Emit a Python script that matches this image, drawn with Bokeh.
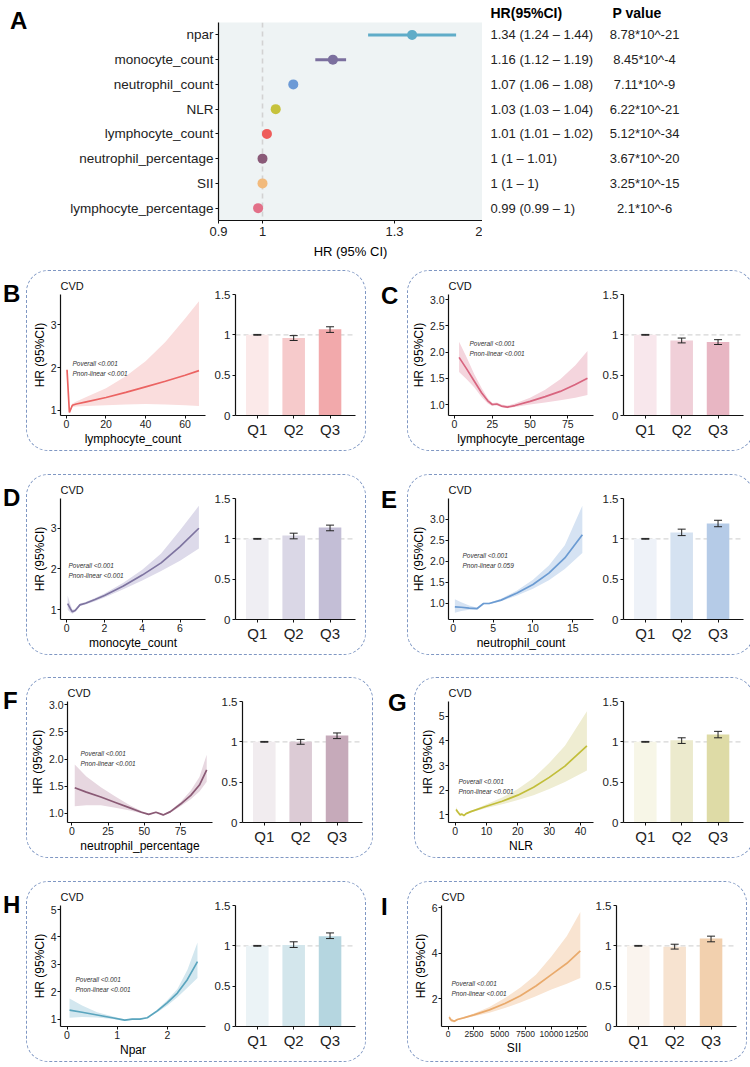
import numpy as np
from bokeh.plotting import figure
from bokeh.models import (Range1d, FactorRange, FixedTicker, Span, Whisker, TeeHead,
                          ColumnDataSource, Div, Spacer)
from bokeh.layouts import row, column
from bokeh.embed import file_html
from bokeh.resources import INLINE
from bokeh.core.properties import value

FONT = "Liberation Sans"
INK = "#222222"

# ---------------- forest plot data ----------------
markers = ["npar", "monocyte_count", "neutrophil_count", "NLR", "lymphocyte_count",
           "neutrophil_percentage", "SII", "lymphocyte_percentage"]
hr = [1.34, 1.16, 1.07, 1.03, 1.01, 1.0, 1.0, 0.99]
hr_low = [1.24, 1.12, 1.06, 1.03, 1.01, 1.0, 1.0, 0.99]
hr_high = [1.44, 1.19, 1.08, 1.04, 1.02, 1.01, 1.0, 1.0]
hr_text = ["1.34 (1.24 \u2013 1.44)", "1.16 (1.12 \u2013 1.19)", "1.07 (1.06 \u2013 1.08)",
           "1.03 (1.03 \u2013 1.04)", "1.01 (1.01 \u2013 1.02)", "1 (1 \u2013 1.01)",
           "1 (1 \u2013 1)", "0.99 (0.99 \u2013 1)"]
p_text = ["8.78*10^-21", "8.45*10^-4", "7.11*10^-9", "6.22*10^-21", "5.12*10^-34",
          "3.67*10^-20", "3.25*10^-15", "2.1*10^-6"]
marker_colors = ["#5FACC8", "#7B6F9E", "#6C9AD6", "#C6C23C", "#EE5C5A", "#8A5A78",
                 "#F2BA7C", "#E27088"]
forest_ticks = [0.9, 1.0, 1.3, 1.5]
forest_tick_labels = ["0.9", "1", "1.3", "2"]

# ---------------- restricted cubic spline curves ----------------
quartiles = ["Q1", "Q2", "Q3"]

panels = [
    dict(letter="B", xlabel="lymphocyte_count",
         x=[0.3, 1.5, 3, 5, 10, 20, 30, 40, 50, 60, 67],
         y=[1.95, 0.95, 1.12, 1.15, 1.20, 1.30, 1.42, 1.55, 1.68, 1.82, 1.93],
         lo=[1.90, 0.92, 1.08, 1.09, 1.10, 1.12, 1.14, 1.15, 1.14, 1.12, 1.10],
         hi=[2.00, 0.98, 1.16, 1.21, 1.31, 1.52, 1.80, 2.15, 2.60, 3.15, 3.55],
         bar=[1.00, 0.96, 1.07], bar_lo=[0.995, 0.93, 1.03], bar_hi=[1.005, 0.99, 1.10],
         pnl="<0.001"),
    dict(letter="C", xlabel="lymphocyte_percentage",
         x=[3, 8, 13, 18, 22, 25, 28, 31, 35, 40, 50, 60, 70, 80, 88],
         y=[1.90, 1.68, 1.45, 1.22, 1.07, 1.00, 1.01, 0.97, 0.95, 0.98, 1.06, 1.15, 1.25, 1.38, 1.50],
         lo=[1.62, 1.48, 1.33, 1.14, 1.02, 0.97, 0.98, 0.95, 0.93, 0.95, 1.00, 1.04, 1.08, 1.13, 1.18],
         hi=[2.20, 1.90, 1.58, 1.31, 1.12, 1.03, 1.04, 1.00, 0.98, 1.02, 1.13, 1.28, 1.48, 1.75, 2.02],
         bar=[1.00, 0.93, 0.91], bar_lo=[0.995, 0.90, 0.88], bar_hi=[1.005, 0.96, 0.94],
         pnl="<0.001"),
    dict(letter="D", xlabel="monocyte_count",
         x=[0.05, 0.2, 0.3, 0.45, 0.7, 1, 1.5, 2, 3, 4, 5, 6, 7],
         y=[1.15, 1.02, 0.95, 0.98, 1.12, 1.16, 1.25, 1.35, 1.58, 1.85, 2.15, 2.55, 3.0],
         lo=[1.00, 0.93, 0.90, 0.95, 1.09, 1.13, 1.21, 1.30, 1.50, 1.72, 1.95, 2.20, 2.50],
         hi=[1.35, 1.12, 1.00, 1.02, 1.15, 1.19, 1.29, 1.40, 1.66, 1.98, 2.38, 2.95, 3.55],
         bar=[1.00, 1.04, 1.14], bar_lo=[0.995, 1.00, 1.10], bar_hi=[1.005, 1.07, 1.17],
         pnl="<0.001"),
    dict(letter="E", xlabel="neutrophil_count",
         x=[0.2, 1, 2, 3, 3.8, 4.5, 6, 8, 10, 12, 14, 16.2],
         y=[0.92, 0.91, 0.89, 0.88, 1.00, 1.00, 1.08, 1.25, 1.45, 1.72, 2.08, 2.63],
         lo=[0.78, 0.82, 0.85, 0.86, 0.98, 0.98, 1.05, 1.19, 1.35, 1.55, 1.82, 2.20],
         hi=[1.10, 1.03, 0.95, 0.90, 1.02, 1.02, 1.11, 1.31, 1.56, 1.90, 2.38, 3.32],
         bar=[1.00, 1.08, 1.19], bar_lo=[0.995, 1.04, 1.15], bar_hi=[1.005, 1.12, 1.23],
         pnl="0.059"),
    dict(letter="F", xlabel="neutrophil_percentage",
         x=[2, 10, 20, 30, 40, 48, 53, 58, 63, 68, 75, 82, 88, 93],
         y=[1.47, 1.39, 1.30, 1.20, 1.10, 1.02, 0.98, 1.02, 0.97, 1.03, 1.17, 1.33, 1.52, 1.80],
         lo=[1.13, 1.15, 1.15, 1.10, 1.05, 1.00, 0.97, 1.01, 0.96, 1.01, 1.13, 1.26, 1.40, 1.58],
         hi=[1.90, 1.68, 1.48, 1.31, 1.15, 1.04, 0.99, 1.03, 0.98, 1.05, 1.21, 1.42, 1.67, 2.08],
         bar=[1.00, 1.00, 1.08], bar_lo=[0.995, 0.97, 1.04], bar_hi=[1.005, 1.03, 1.11],
         pnl="<0.001"),
    dict(letter="G", xlabel="NLR",
         x=[0.3, 1, 1.6, 2.2, 2.8, 3.5, 5, 10, 15, 20, 25, 30, 35, 42],
         y=[1.22, 1.10, 1.00, 1.03, 0.97, 1.05, 1.13, 1.35, 1.55, 1.80, 2.12, 2.52, 2.98, 3.80],
         lo=[1.12, 1.05, 0.97, 1.00, 0.95, 1.02, 1.10, 1.28, 1.43, 1.60, 1.80, 2.05, 2.33, 2.80],
         hi=[1.32, 1.16, 1.03, 1.06, 1.00, 1.08, 1.16, 1.43, 1.70, 2.05, 2.50, 3.10, 3.80, 5.20],
         bar=[1.00, 1.02, 1.09], bar_lo=[0.995, 0.98, 1.05], bar_hi=[1.005, 1.05, 1.13],
         pnl="<0.001"),
    dict(letter="H", xlabel="Npar",
         x=[0.05, 0.3, 0.6, 0.9, 1.15, 1.3, 1.45, 1.6, 1.8, 2.0, 2.2, 2.4, 2.6],
         y=[1.33, 1.25, 1.15, 1.05, 0.96, 1.00, 1.00, 1.05, 1.30, 1.60, 1.95, 2.45, 3.10],
         lo=[1.05, 1.08, 1.06, 1.00, 0.93, 0.98, 0.98, 1.03, 1.25, 1.50, 1.80, 2.15, 2.50],
         hi=[1.75, 1.50, 1.25, 1.10, 0.99, 1.02, 1.02, 1.07, 1.35, 1.70, 2.10, 2.80, 3.80],
         bar=[1.00, 1.01, 1.12], bar_lo=[0.995, 0.98, 1.09], bar_hi=[1.005, 1.05, 1.16],
         pnl="<0.001"),
    dict(letter="I", xlabel="SII",
         x=[100, 300, 600, 900, 1500, 2500, 4000, 5500, 7000, 8500, 10000, 11500, 12800],
         y=[1.18, 1.05, 1.00, 1.08, 1.15, 1.28, 1.50, 1.78, 2.12, 2.55, 3.05, 3.55, 4.10],
         lo=[1.08, 0.98, 0.95, 1.05, 1.12, 1.22, 1.38, 1.58, 1.82, 2.10, 2.40, 2.65, 2.90],
         hi=[1.28, 1.12, 1.05, 1.11, 1.18, 1.34, 1.63, 2.02, 2.48, 3.05, 3.85, 4.75, 5.80],
         bar=[1.00, 0.99, 1.09], bar_lo=[0.995, 0.96, 1.05], bar_hi=[1.005, 1.02, 1.12],
         pnl="<0.001"),
]

# axis limits, ticks and colours of each spline / bar pair
styles = {
    "B": dict(xlim=(-3.0, 70.3), ylim=(0.88, 3.71), xticks=[0, 20, 40, 60], yticks=[1, 2, 3],
              line="#EB6362", band="#FADDDD", bars=["#FBE9E9", "#F6CACB", "#F2A9AB"], ann=(12, 69)),
    "C": dict(xlim=(-4, 92), ylim=(0.79, 3.1), xticks=[0, 25, 50, 75], yticks=[1.0, 1.5, 2.0, 2.5, 3.0],
              line="#D8657F", band="#F4D5DD", bars=["#F8E7EC", "#F0CFD8", "#E8B6C3"], ann=(21, 49)),
    "D": dict(xlim=(-0.33, 7.35), ylim=(0.76, 3.73), xticks=[0, 2, 4, 6], yticks=[1, 2, 3],
              line="#7E74A0", band="#DDDAEA", bars=["#EFEEF3", "#DAD7E6", "#C3BED6"], ann=(8, 67)),
    "E": dict(xlim=(-0.6, 17.6), ylim=(0.62, 3.49), xticks=[0, 5, 10, 15], yticks=[1.0, 1.5, 2.0, 2.5, 3.0],
              line="#6B9BD2", band="#D6E3F3", bars=["#EEF2F8", "#D5E2F1", "#B5CBE7"], ann=(14, 57)),
    "F": dict(xlim=(-3, 97), ylim=(0.83, 3.06), xticks=[0, 25, 50, 75], yticks=[1.0, 1.5, 2.0, 2.5, 3.0],
              line="#8A5A75", band="#E7D7E0", bars=["#F1ECEF", "#DCCBD5", "#C6AABA"], ann=(13, 52)),
    "G": dict(xlim=(-2.1, 44.1), ylim=(0.69, 5.6), xticks=[0, 10, 20, 30, 40], yticks=[1, 2, 3, 4, 5],
              line="#C2BE3A", band="#EFEDD2", bars=["#F7F6E7", "#ECEACD", "#DEDBA6"], ann=(10, 80)),
    "H": dict(xlim=(-0.13, 2.76), ylim=(0.73, 5.15), xticks=[0, 1, 2], yticks=[1, 2, 3, 4, 5],
              line="#5AA5BE", band="#D3E7EF", bars=["#EBF3F6", "#D3E6EC", "#B5D6E0"], ann=(15, 74)),
    "I": dict(xlim=(-640, 13400), ylim=(0.77, 6.09), xticks=[0, 2500, 5000, 7500, 10000, 12500], yticks=[2, 4, 6],
              line="#E9AA6C", band="#F9E4D1", bars=["#FAF4EE", "#F7E3D0", "#F2D0AE"], ann=(10, 78)),
}

# frame geometry shared by the boxed panels
FRAME_TOP, FRAME_H, FRAME_BOTTOM = 23, 121, 35
SPL_LEFT, SPL_W, SPL_RIGHT = 33, 145, 2
BAR_LEFT, BAR_W, BAR_RIGHT = 28, 120, 10


def style_axes(p, label_size, tick_size):
    for ax in p.axis:
        ax.axis_line_color = "#111111"
        ax.axis_line_width = 1.2
        ax.major_tick_line_color = "#111111"
        ax.major_tick_in = 0
        ax.major_tick_out = 3
        ax.minor_tick_line_color = None
        ax.major_label_text_font = FONT
        ax.major_label_text_font_size = tick_size
        ax.major_label_text_color = INK
        ax.axis_label_text_font = FONT
        ax.axis_label_text_font_size = label_size
        ax.axis_label_text_font_style = "normal"
        ax.axis_label_text_color = "#000000"
        ax.major_label_standoff = 1
        ax.axis_label_standoff = 1
    p.grid.visible = False
    p.outline_line_color = None


def clear_canvas(p):
    # transparent canvas so the rounded dashed frame shows through at the corners
    p.border_fill_color = None
    p.background_fill_color = None


def spline_figure(d, s):
    p = figure(x_range=Range1d(*s["xlim"]), y_range=Range1d(*s["ylim"]),
               frame_width=SPL_W, frame_height=FRAME_H, min_border_left=SPL_LEFT,
               min_border_right=SPL_RIGHT, min_border_top=FRAME_TOP, min_border_bottom=FRAME_BOTTOM,
               title="CVD", output_backend="svg", toolbar_location=None)
    clear_canvas(p)
    p.title.text_font = FONT
    p.title.text_font_size = "11px"
    p.title.text_font_style = "normal"
    p.title.text_color = "#111111"
    p.title.standoff = 5
    p.varea(x=d["x"], y1=d["lo"], y2=d["hi"], fill_color=s["band"], fill_alpha=1)
    p.line(x=d["x"], y=d["y"], line_color=s["line"], line_width=1.7)
    p.xaxis.axis_label = d["xlabel"]
    p.yaxis.axis_label = "HR (95%CI)"
    p.xaxis.ticker = FixedTicker(ticks=s["xticks"])
    p.yaxis.ticker = FixedTicker(ticks=s["yticks"])
    decimals = any(t != int(t) for t in s["yticks"])
    p.yaxis.major_label_overrides = {t: (f"{t:.1f}" if decimals else f"{t:g}") for t in s["yticks"]}
    p.xaxis.major_label_overrides = {t: f"{t:g}" for t in s["xticks"]}
    style_axes(p, "12px", "10.5px")
    if d["letter"] == "I":
        p.xaxis.major_label_text_font_size = "8.5px"
    # p-value note
    x0, x1 = s["xlim"]
    y0, y1 = s["ylim"]
    dx, dy = s["ann"]
    ax = x0 + dx / SPL_W * (x1 - x0)
    ay = [y1 - dy / FRAME_H * (y1 - y0), y1 - (dy + 10) / FRAME_H * (y1 - y0)]
    p.text(x=[ax, ax], y=ay, text=["Poverall  <0.001", "Pnon-linear  " + d["pnl"]],
           text_font=value(FONT), text_font_size="6.5px", text_font_style="italic",
           text_color="#333333", text_baseline="middle", text_align="left")
    return p


def bar_figure(d, s):
    p = figure(x_range=Range1d(0.4, 3.7), y_range=Range1d(0, 1.5),
               frame_width=BAR_W, frame_height=FRAME_H, min_border_left=BAR_LEFT,
               min_border_right=BAR_RIGHT, min_border_top=FRAME_TOP, min_border_bottom=FRAME_BOTTOM,
               output_backend="svg", toolbar_location=None)
    clear_canvas(p)
    xs = [1, 2, 3]
    p.add_layout(Span(location=1, dimension="width", line_color="#D6D6D6", line_width=1.2,
                      line_dash="5 3", level="underlay"))
    src = ColumnDataSource(dict(x=xs, top=d["bar"], lo=d["bar_lo"], hi=d["bar_hi"], color=s["bars"]))
    p.vbar(x="x", top="top", width=0.62, fill_color="color", line_color=None, source=src)
    wh = Whisker(source=src, base="x", upper="hi", lower="lo", line_color="#222222", line_width=1,
                 upper_head=TeeHead(size=8, line_color="#222222", line_width=1),
                 lower_head=TeeHead(size=8, line_color="#222222", line_width=1), level="annotation")
    p.add_layout(wh)
    p.xaxis.ticker = FixedTicker(ticks=xs)
    p.xaxis.major_label_overrides = dict(zip(xs, quartiles))
    p.yaxis.ticker = FixedTicker(ticks=[0, 0.5, 1, 1.5])
    p.yaxis.major_label_overrides = {0: "0", 0.5: "0.5", 1: "1", 1.5: "1.5"}
    style_axes(p, "11px", "11.5px")
    p.xaxis.major_label_text_font_size = "15px"
    p.xaxis.major_label_standoff = 2
    p.yaxis.major_label_standoff = 2
    return p


BOX_STYLE = {"border": "1.5px dashed #7F97C3", "border-radius": "22px"}


def letter_div(t, w, h, left, top):
    return Div(text=f'<div style="margin-left:{left}px;margin-top:{top}px;font-family:{FONT};'
                    f'font-size:24px;font-weight:bold;color:#000;line-height:1">{t}</div>',
               width=w, height=h, margin=0)


def panel_box(d):
    s = styles[d["letter"]]
    return row(spline_figure(d, s), bar_figure(d, s), styles=BOX_STYLE)


# ---------------- panel A: forest plot + table ----------------
y_cats = FactorRange(factors=markers[::-1])
fp = figure(y_range=y_cats, x_range=Range1d(0.9, 1.5),
            frame_width=264, frame_height=198, min_border_left=188, min_border_top=22,
            min_border_bottom=42, min_border_right=0,
            output_backend="svg", toolbar_location=None)
fp.background_fill_color = "#EEF3F4"
fp.add_layout(Span(location=1, dimension="height", line_color="#D2D2D2", line_width=1.6,
                   line_dash="5 4", level="underlay"))
fp.segment(x0=hr_low, y0=markers, x1=hr_high, y1=markers, line_color=marker_colors, line_width=3)
fp.scatter(x=hr, y=markers, size=10, fill_color=marker_colors, line_color=None)
fp.xaxis.ticker = FixedTicker(ticks=forest_ticks)
fp.xaxis.major_label_overrides = dict(zip(forest_ticks, forest_tick_labels))
fp.xaxis.axis_label = "HR (95% CI)"
style_axes(fp, "13px", "13px")
fp.yaxis.major_label_text_font_size = "13.5px"
fp.yaxis.major_label_standoff = 2
fp.xaxis.major_label_standoff = 3
fp.xaxis.axis_label_standoff = 5
fp.yaxis.major_label_text_color = "#222222"


def table_figure(width, header, header_offset, texts, tx, align):
    t = figure(x_range=Range1d(0, width), y_range=y_cats, title=header,
               frame_width=width, frame_height=198, min_border_left=0, min_border_right=0,
               min_border_top=22, min_border_bottom=42,
               output_backend="svg", toolbar_location=None)
    t.axis.visible = False
    t.grid.visible = False
    t.outline_line_color = None
    t.title.text_font = FONT
    t.title.text_font_size = "14px"
    t.title.text_font_style = "bold"
    t.title.text_color = "#000000"
    t.title.offset = header_offset
    t.title.standoff = 3
    t.text(x=tx, y=markers, text=texts, text_font=value(FONT), text_font_size="13px",
           text_color=INK, text_baseline="middle", text_align=align)
    return t


hr_tab = table_figure(124, "HR(95%CI)", 8, hr_text, 8, "left")
p_tab = table_figure(144, "P value", 6, p_text, 38, "center")

row_a = row(letter_div("A", 30, 262, 10, 9), fp, hr_tab, p_tab)

# ---------------- panels B-I ----------------
rows = []
for k in range(0, len(panels), 2):
    left, right = panels[k], panels[k + 1]
    rows.append(row(letter_div(left["letter"], 26, 182, 3, 12), panel_box(left),
                    letter_div(right["letter"], 41, 182, 15, 14), panel_box(right)))

page = column(row_a, Spacer(height=8), rows[0], Spacer(height=22), rows[1], Spacer(height=21),
              rows[2], Spacer(height=22), rows[3])

open("out.html", "w").write(file_html(page, INLINE))
